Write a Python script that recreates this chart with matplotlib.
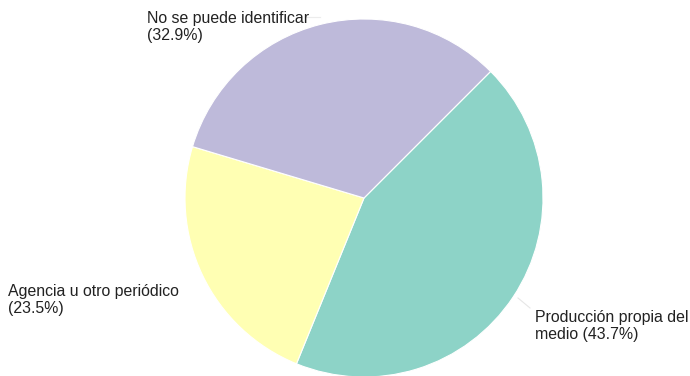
import matplotlib.pyplot as plt

plt.rcParams['font.family'] = ['Liberation Sans', 'DejaVu Sans']

labels = ["Producción propia del\nmedio", "Agencia u otro periódico", "No se puede identificar"]
shares = [43.7, 23.5, 32.9]
colors = ["#8dd3c7", "#ffffb3", "#bebada"]

W, H = 690, 376
fig = plt.figure(figsize=(W / 100, H / 100), dpi=100)
ax = fig.add_axes([0, 0, 1, 1])

cx, cy, r = 364, H - 198, 179
ax.pie(shares, colors=colors, startangle=45, counterclock=False,
       center=(cx, cy), radius=r,
       wedgeprops=dict(edgecolor="white", linewidth=0.8))

ax.set_xlim(0, W)
ax.set_ylim(0, H)
ax.set_aspect("equal")
ax.axis("off")

# label positions in pixels from the top-left corner
label_pos = [(535, 310), (8, 284), (147, 11)]
for lab, val, (x, y) in zip(labels, shares, label_pos):
    text = f"{lab}\n({val}%)" if "\n" not in lab else f"{lab} ({val}%)"
    ax.text(x, H - y, text, ha="left", va="top", fontsize=11.4,
            color="#222222", linespacing=1.2)

# faint leader lines
ax.plot([305, 320], [H - 17, H - 17], color="#ececec", lw=0.8)
ax.plot([518, 530], [H - 298, H - 308], color="#e6e6e6", lw=0.8)

fig.savefig("out.png", dpi=100)
